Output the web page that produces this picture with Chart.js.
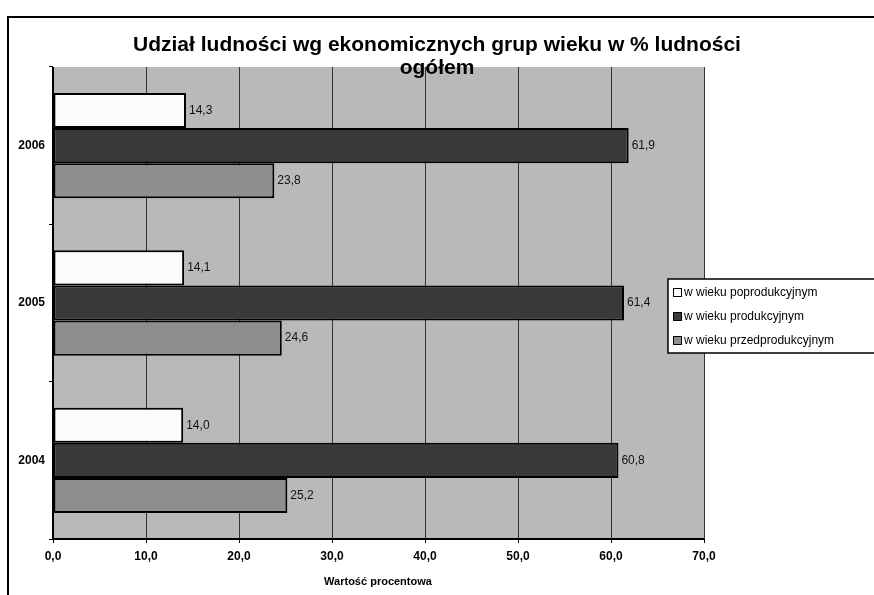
<!DOCTYPE html>
<html>
<head>
<meta charset="utf-8">
<script src="https://cdn.jsdelivr.net/npm/chart.js@4.4.0/dist/chart.umd.min.js"></script>
<style>
  html, body { margin: 0; padding: 0; background: #fff; }
  #wrap { position: relative; width: 874px; height: 595px; overflow: hidden; }
  #frame { position: absolute; left: 7px; top: 16px; width: 872px; height: 600px; border: 2px solid #000; box-sizing: border-box; }
  canvas { position: absolute; left: 0; top: 0; }
</style>
</head>
<body>
<div id="wrap">
  <div id="frame"></div>
  <canvas id="chart" width="874" height="595"></canvas>
</div>
<script>
const years = ['2006', '2005', '2004'];
const seriesNames = ['w wieku poprodukcyjnym', 'w wieku produkcyjnym', 'w wieku przedprodukcyjnym'];
const poprodukcyjny = [14.3, 14.1, 14.0];
const produkcyjny = [61.9, 61.4, 60.8];
const przedprodukcyjny = [23.8, 24.6, 25.2];
const xTicks = [0, 10, 20, 30, 40, 50, 60, 70];

const chartTitle = ['Udział ludności wg ekonomicznych grup wieku w % ludności', 'ogółem'];
const xTitle = 'Wartość procentowa';

const fmt = v => v.toFixed(1).replace('.', ',');
const font = 'Arial, "Liberation Sans", sans-serif';

// plot background, value labels, title, legend
const decor = {
    id: 'decor',
    beforeDraw(chart) {
        const { ctx, chartArea: a } = chart;
        ctx.save();
        ctx.fillStyle = '#b9b9b9';
        ctx.fillRect(a.left, a.top, a.right - a.left, a.bottom - a.top);
        ctx.restore();
    },
    afterDatasetsDraw(chart) {
        const ctx = chart.ctx;
        ctx.save();
        ctx.font = '12px ' + font;
        ctx.fillStyle = '#111';
        ctx.textBaseline = 'middle';
        chart.data.datasets.forEach((ds, i) => {
            chart.getDatasetMeta(i).data.forEach((bar, j) => {
                ctx.fillText(fmt(ds.data[j]), bar.x + 3, bar.y);
            });
        });
        ctx.restore();
    },
    afterDraw(chart) {
        const { ctx, chartArea: a } = chart;
        ctx.save();
        // left / bottom edges of the plot
        ctx.strokeStyle = '#000';
        ctx.lineWidth = 2;
        ctx.beginPath();
        ctx.moveTo(a.left, a.top);
        ctx.lineTo(a.left, a.bottom);
        ctx.lineTo(a.right, a.bottom);
        ctx.stroke();

        // title
        ctx.fillStyle = '#000';
        ctx.textAlign = 'center';
        ctx.textBaseline = 'middle';
        ctx.font = 'bold 21px ' + font;
        ctx.fillText(chartTitle[0], 437, 45);
        ctx.fillText(chartTitle[1], 437, 68);

        // axis title
        ctx.font = 'bold 11px ' + font;
        ctx.fillText(xTitle, 378, 582);

        // legend
        const lx = 668, ly = 279;
        ctx.fillStyle = '#fff';
        ctx.fillRect(lx, ly, 210, 74);
        ctx.strokeStyle = '#000';
        ctx.lineWidth = 1.5;
        ctx.strokeRect(lx, ly, 210, 74);
        ctx.textAlign = 'left';
        ctx.font = '12px ' + font;
        chart.data.datasets.forEach((ds, i) => {
            const y = ly + 13 + i * 24;
            ctx.fillStyle = ds.backgroundColor;
            ctx.fillRect(lx + 5, y - 4, 8, 8);
            ctx.strokeStyle = '#000';
            ctx.lineWidth = 1;
            ctx.strokeRect(lx + 5.5, y - 3.5, 8, 8);
            ctx.fillStyle = '#000';
            ctx.fillText(ds.label, lx + 16, y + 1);
        });
        ctx.restore();
    }
};

const ctx = document.getElementById('chart').getContext('2d');
new Chart(ctx, {
    type: 'bar',
    data: {
        labels: years,
        datasets: [
            { label: seriesNames[0], data: poprodukcyjny, backgroundColor: '#fbfbfb' },
            { label: seriesNames[1], data: produkcyjny, backgroundColor: '#3a3a3a' },
            { label: seriesNames[2], data: przedprodukcyjny, backgroundColor: '#8e8e8e' }
        ].map(d => Object.assign(d, {
            borderColor: '#000', borderWidth: 2, borderSkipped: false,
            categoryPercentage: 0.67, barPercentage: 1.0
        }))
    },
    options: {
        indexAxis: 'y',
        responsive: false,
        animation: false,
        layout: { padding: { top: 67, right: 170, left: 0, bottom: 0 } },
        plugins: { legend: { display: false }, title: { display: false }, tooltip: { enabled: false } },
        scales: {
            x: {
                min: 0, max: 70,
                afterBuildTicks: s => { s.ticks = xTicks.map(v => ({ value: v })); },
                afterFit: s => { s.height = 56; },
                grid: { color: '#333', lineWidth: 1, drawTicks: true, tickLength: 4, tickColor: '#000' },
                border: { display: false },
                ticks: { color: '#000', font: { family: font, size: 12, weight: 'bold' }, padding: 6, callback: v => fmt(v) }
            },
            y: {
                afterFit: s => { s.width = 53; },
                grid: { display: true, drawOnChartArea: false, offset: true, tickLength: 4, tickColor: '#000' },
                border: { display: false },
                ticks: { color: '#000', font: { family: font, size: 12, weight: 'bold' }, padding: 4 }
            }
        }
    },
    plugins: [decor]
});
</script>
</body>
</html>
